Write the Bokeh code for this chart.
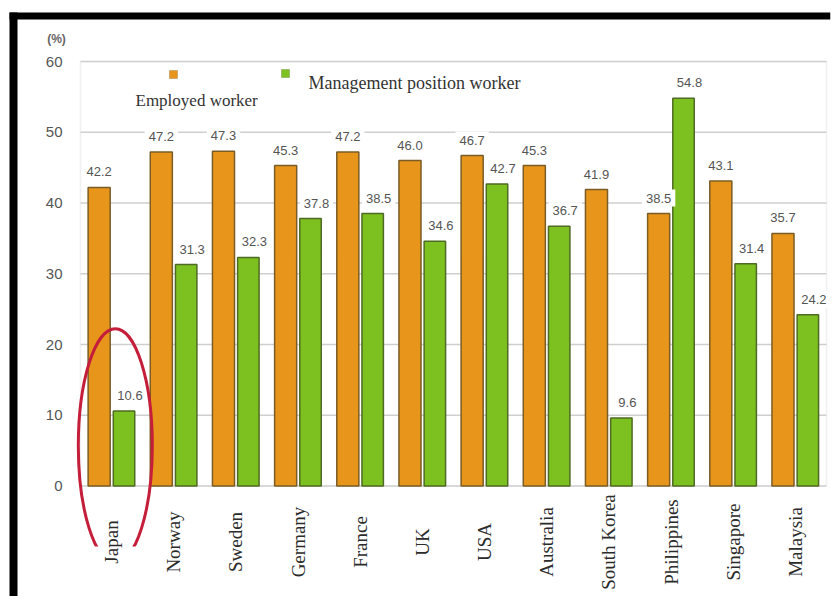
from math import pi
from bokeh.plotting import figure
from bokeh.models import Range1d, BoxAnnotation, Label, ColumnDataSource
from bokeh.transform import dodge
from bokeh.core.properties import value
from bokeh.embed import file_html
from bokeh.resources import INLINE

# ---- data ----
categories = ["Japan", "Norway", "Sweden", "Germany", "France", "UK", "USA",
              "Australia", "South Korea", "Philippines", "Singapore", "Malaysia"]
employed = [42.2, 47.2, 47.3, 45.3, 47.2, 46.0, 46.7, 45.3, 41.9, 38.5, 43.1, 35.7]
management = [10.6, 31.3, 32.3, 37.8, 38.5, 34.6, 42.7, 36.7, 9.6, 54.8, 31.4, 24.2]
yticks = [0, 10, 20, 30, 40, 50, 60]
series_names = ["Employed worker", "Management position worker"]
unit_label = "(%)"

ORANGE = "#E8951C"
ORANGE_EDGE = "#7a5c24"
GREEN = "#7DC120"
GREEN_EDGE = "#4f6a22"
GRID = "#cfcfcf"
SERIF = value("Liberation Serif")
SANS = value("Liberation Sans")

W, H = 836, 596
RB = 6                      # right border outside the frame
FW = W - RB                 # frame width (frame starts at the canvas left edge)
n = len(categories)
# category slots: slot i spans [i, i+1]
xs = [i + 0.5 for i in range(n)]

src = ColumnDataSource(dict(
    x=xs, cat=categories, emp=employed, mgt=management,
    emp_txt=[f"{v:.1f}" for v in employed],
    mgt_txt=[f"{v:.1f}" for v in management],
))
tick_src = ColumnDataSource(dict(y=yticks, txt=[str(t) for t in yticks]))

# plot region inside the canvas: x 80..826 px, y(60)=61 px, y(0)=485.5 px
PX_X = (826 - 80) / n
PX_Y = (485.5 - 61) / 60.0
x_start = -80 / PX_X
x_end = n + (FW - 826) / PX_X
y_end = 60 + 61 / PX_Y
y_start = -(H - 485.5) / PX_Y


def px_x(px):
    return (px - 80) / PX_X


def px_y(py):
    return (485.5 - py) / PX_Y


p = figure(
    x_range=Range1d(x_start, x_end), y_range=Range1d(y_start, y_end),
    width=W, height=H,
    output_backend="svg", toolbar_location=None,
    x_axis_location=None, y_axis_location=None,
    min_border=0, min_border_right=RB, outline_line_color=None,
    styles={"overflow": "hidden"},
)
p.grid.visible = False

# scan border (black bars at top/left), drawn as plain quads
p.quad(left=[px_x(9), px_x(9)], right=[px_x(FW), px_x(17)],
       top=[px_y(12), px_y(12)], bottom=[px_y(19), px_y(H)],
       fill_color="black", line_color=None)

# gridlines + frame
p.segment(x0=0, x1=n, y0="y", y1="y", line_color=GRID, line_width=1.5, source=tick_src)
p.add_layout(BoxAnnotation(left=0, right=n, bottom=0, top=60, fill_alpha=0,
                           line_color=GRID, line_width=1.5, level="underlay"))

# y tick labels
p.text(x=0, y="y", text="txt", x_offset=-18, text_align="right", text_baseline="middle",
       text_font=SANS, text_font_size="15px", text_color="#555555", source=tick_src)

# bars
p.vbar(x=dodge("x", -0.2), top="emp", bottom=0, width=0.355,
       fill_color=ORANGE, line_color=ORANGE_EDGE, line_width=1.5, source=src)
p.vbar(x=dodge("x", 0.2), top="mgt", bottom=0, width=0.345,
       fill_color=GREEN, line_color=GREEN_EDGE, line_width=1.5, source=src)

# value labels
p.text(x=dodge("x", -0.2), y="emp", text="emp_txt", y_offset=-7,
       text_align="center", text_baseline="bottom", text_font=SANS,
       text_font_size="13px", text_color="#555555",
       background_fill_color="white", padding=4, source=src)
p.text(x=dodge("x", 0.2), y="mgt", text="mgt_txt", y_offset=-7,
       x_offset=6, text_align="center", text_baseline="bottom", text_font=SANS,
       text_font_size="13px", text_color="#555555",
       background_fill_color="white", padding=4, source=src)

# red ellipse around Japan (open at the bottom, as hand-drawn in the original)
p.ellipse(x=dodge("x", 0.06), y=5.7, width=74, height=234,
          width_units="screen", height_units="screen", fill_color=None,
          line_color="#c41e3a", line_width=3,
          source=ColumnDataSource(dict(x=xs[:1])))
p.quad(left=px_x(88), right=px_x(146), top=px_y(546), bottom=px_y(575),
       fill_color="white", line_color=None)

# category labels (vertical)
p.text(x="x", y=0, text="cat", y_offset=56, angle=pi / 2,
       text_align="center", text_baseline="middle", text_font=SERIF,
       text_font_size="19px", text_color="#2b2b2b", source=src)

# legend (custom layout, canvas pixels)
def cbox(left, right, top, bottom, **kw):
    return BoxAnnotation(left=left, right=right, top=top, bottom=bottom,
                         left_units="canvas", right_units="canvas",
                         top_units="canvas", bottom_units="canvas", **kw)

p.add_layout(cbox(169, 177, 70, 78, fill_color=ORANGE, fill_alpha=1,
                  line_color=ORANGE_EDGE, line_width=1))
p.add_layout(cbox(281, 289, 69, 77, fill_color=GREEN, fill_alpha=1,
                  line_color=GREEN_EDGE, line_width=1))
p.add_layout(Label(x=135, y=100, x_units="canvas", y_units="canvas", text=series_names[0],
                   text_align="left", text_baseline="middle", text_font="Liberation Serif",
                   text_font_size="17px", text_color="#333333"))
p.add_layout(Label(x=308, y=82, x_units="canvas", y_units="canvas", text=series_names[1],
                   text_align="left", text_baseline="middle", text_font="Liberation Serif",
                   text_font_size="18px", text_color="#333333"))

# unit label
p.add_layout(Label(x=56, y=38, x_units="canvas", y_units="canvas", text=unit_label,
                   text_align="center", text_baseline="middle", text_font="Liberation Sans",
                   text_font_size="12px", text_font_style="bold", text_color="#666666"))

open("out.html", "w").write(file_html(p, INLINE))
